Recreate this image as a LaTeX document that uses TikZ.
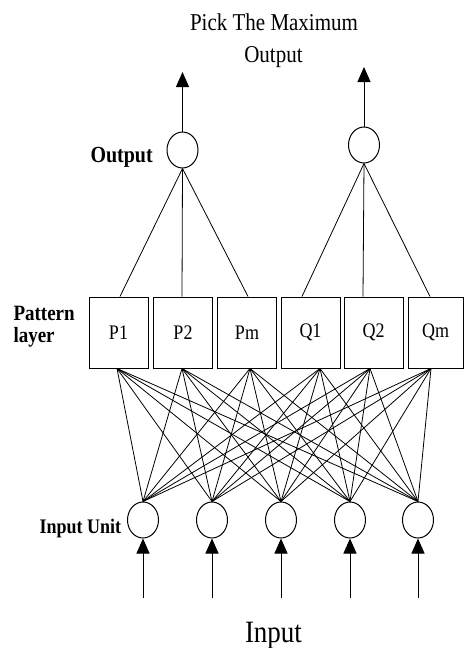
\documentclass[tikz,border=0pt]{standalone}
\usepackage{graphicx}
\usepackage{fontspec}
\setmainfont{Liberation Serif}
\usetikzlibrary{shapes.geometric,arrows.meta}
\newcommand\vst[1]{\scalebox{1}[1.15]{#1}}
\begin{document}
\begin{tikzpicture}[x=1pt,y=-1pt,
  line width=1pt,
  unit/.style={draw,ellipse,minimum width=31pt,minimum height=36pt,inner sep=0pt},
  pbox/.style={draw,rectangle,minimum height=71pt,inner sep=0pt,font=\fontsize{18}{20}\selectfont},
  arr/.style={-{Triangle[length=15pt,width=13pt]}},
  lbl/.style={inner sep=0pt,anchor=base west},
  wire/.style={line width=0.8pt}]
\useasboundingbox[fill=white] (0,0) rectangle (464,648);
% texts
\node[inner sep=0pt,anchor=base,font=\fontsize{21}{23}\selectfont] (t1) at (274,30) {\vst{Pick The Maximum}};
\node[inner sep=0pt,anchor=base,font=\fontsize{21}{23}\selectfont] (t2) at (273.5,62) {\vst{Output}};
\node[lbl,font=\bfseries\fontsize{20}{22}\selectfont] (lo) at (90,162) {\vst{Output}};
\node[lbl,font=\bfseries\fontsize{19}{21}\selectfont] (lp1) at (13,320) {\vst{Pattern}};
\node[lbl,font=\bfseries\fontsize{19}{21}\selectfont] (lp2) at (13,342) {\vst{layer}};
\node[lbl,font=\bfseries\fontsize{18}{20}\selectfont] (li) at (39,533) {\vst{Input Unit}};
\node[inner sep=0pt,anchor=base,font=\fontsize{27}{29}\selectfont] (lin) at (273.5,642) {\vst{Input}};
% output units
\node[unit] (O1) at (182.5,150) {};
\node[unit] (O2) at (364,145) {};
\coordinate (O1tip) at (182.5,72);
\coordinate (O2tip) at (364,67);
\draw[arr] (O1.north) -- (O1tip);
\draw[arr] (O2.north) -- (O2tip);
% pattern boxes
\node[pbox,minimum width=59pt] (P1) at (118.5,332.5) {\vst{P1}};
\node[pbox,minimum width=59pt] (P2) at (183,332.5) {\vst{P2}};
\node[pbox,minimum width=59pt] (Pm) at (247,332.5) {\vst{Pm}};
\node[pbox,minimum width=59pt] (Q1) at (310.5,332.5) {\vst{Q1}};
\node[pbox,minimum width=59pt] (Q2) at (373.5,332.5) {\vst{Q2}};
\node[pbox,minimum width=55pt] (Qm) at (435.5,332.5) {\vst{Qm}};
% attach points
\coordinate (P1t) at ([xshift=1.5pt]P1.north);
\coordinate (P2t) at ([xshift=-1pt]P2.north);
\coordinate (Pmt) at ([xshift=1pt]Pm.north);
\coordinate (Q1t) at ([xshift=-8.5pt]Q1.north);
\coordinate (Q2t) at ([xshift=-10.5pt]Q2.north);
\coordinate (Qmt) at ([xshift=-5.5pt]Qm.north);
\coordinate (P1b) at ([xshift=-1.5pt]P1.south);
\coordinate (P2b) at ([xshift=-1pt]P2.south);
\coordinate (Pmb) at ([xshift=3pt]Pm.south);
\coordinate (Q1b) at ([xshift=9.5pt]Q1.south);
\coordinate (Q2b) at ([xshift=-3.5pt]Q2.south);
\coordinate (Qmb) at ([xshift=-4.5pt]Qm.south);
\foreach \b in {P1t,P2t,Pmt} \draw[wire] (O1.south) -- (\b);
\foreach \b in {Q1t,Q2t,Qmt} \draw[wire] (O2.south) -- (\b);
% input units
\foreach \i/\x in {1/143,2/212,3/281,4/350,5/418}{
  \node[unit] (I\i) at (\x,520) {};
  \coordinate (T\i) at (\x,598);
  \draw[arr] (T\i) -- (I\i.south);
  \foreach \b in {P1b,P2b,Pmb,Q1b,Q2b,Qmb} \draw[wire] (I\i.north) -- (\b);
}
\end{tikzpicture}
\end{document}
